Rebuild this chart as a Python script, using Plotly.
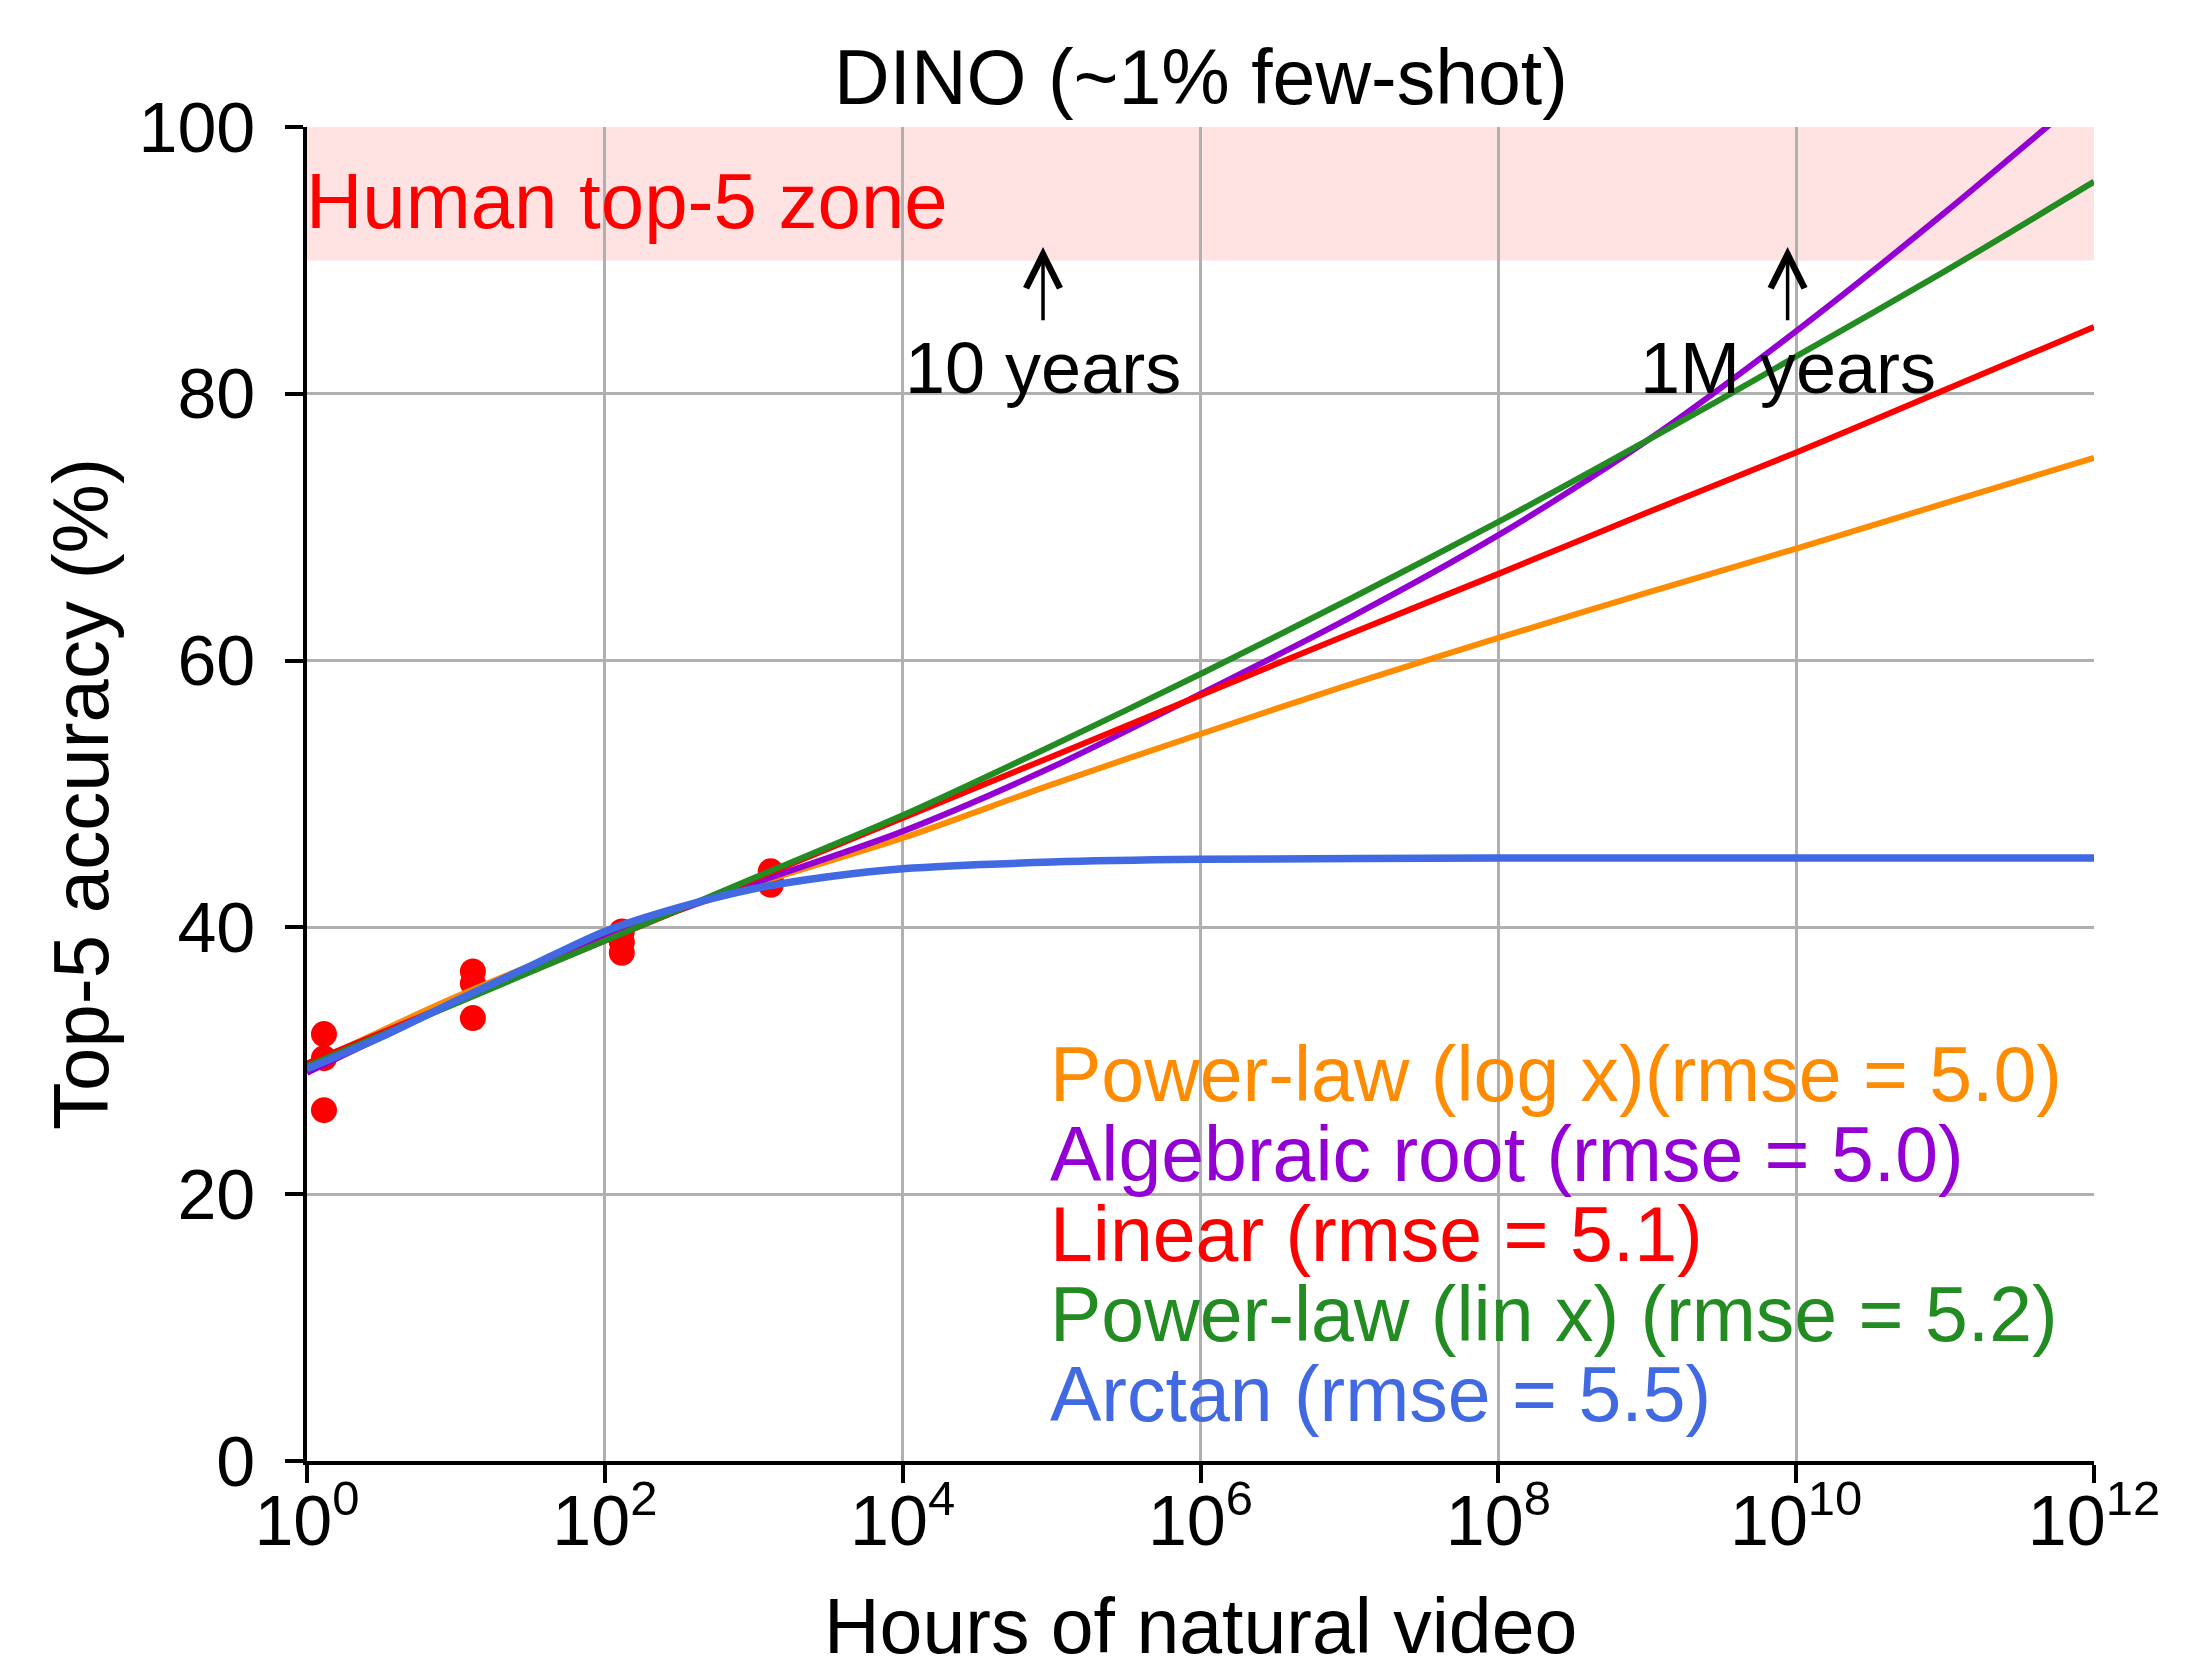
import plotly.graph_objects as go
import math

FONT = "Liberation Sans, Arial, Helvetica, sans-serif"

# ---------------- data ----------------
run_hours = [1.3, 1.3, 1.3, 13, 13, 13, 130, 130, 130, 1300, 1300, 1300]
run_top5 = [32.0, 30.2, 26.3, 36.7, 35.8, 33.2, 39.7, 38.9, 38.1, 44.2, 43.6, 43.2]

fit_hours = [1e0, 1e1, 1e2, 1e3, 1e4, 1e5, 1e6, 1e7, 1e8, 1e9, 1e10, 1e11, 1e12]
powerlaw_log_acc = [29.6, 34.8, 39.3, 43.2, 46.7, 50.7, 54.5, 58.2, 61.7, 65.1, 68.4, 71.8, 75.2]
algebraic_root_acc = [29.1, 34.4, 39.2, 43.3, 47.2, 52.0, 57.5, 63.2, 69.4, 76.5, 84.7, 93.6, 103.0]
linear_acc = [29.8, 34.4, 39.0, 43.6, 48.2, 52.8, 57.4, 62.0, 66.5, 71.1, 75.6, 80.3, 85.0]
powerlaw_lin_acc = [29.6, 34.3, 39.0, 43.7, 48.4, 53.6, 59.0, 64.6, 70.4, 76.5, 82.8, 89.2, 95.9]
arctan_hours = [1, 3.16, 10, 31.6, 100, 316, 1e3, 3160, 1e4, 1e5, 1e6, 1e8, 1e10, 1e12]
arctan_acc = [29.4, 31.8, 34.5, 37.1, 39.7, 41.5, 42.9, 43.8, 44.4, 44.9, 45.1, 45.2, 45.2, 45.2]

fit_names = [
    "Power-law (log x)(rmse = 5.0)",
    "Algebraic root (rmse = 5.0)",
    "Linear (rmse = 5.1)",
    "Power-law (lin x) (rmse = 5.2)",
    "Arctan (rmse = 5.5)",
]
fit_colors = ["#ff8c00", "#9400d3", "#ff0000", "#228b22", "#4169e1"]

x_tick_vals = [1e0, 1e2, 1e4, 1e6, 1e8, 1e10, 1e12]
x_tick_text = ["10<sup>0</sup>", "10<sup>2</sup>", "10<sup>4</sup>", "10<sup>6</sup>",
               "10<sup>8</sup>", "10<sup>10</sup>", "10<sup>12</sup>"]
y_tick_vals = [0, 20, 40, 60, 80, 100]

human_zone = [90, 100]
milestone_hours = [87600, 8.76e9]
milestone_labels = ["10 years", "1M years"]

# ---------------- figure ----------------
fig = go.Figure()

fig.add_trace(go.Scatter(x=run_hours, y=run_top5, mode="markers",
                         marker=dict(color="#ff0000", size=26, line=dict(width=0)),
                         showlegend=False))

fit_x = [fit_hours, fit_hours, fit_hours, fit_hours, arctan_hours]
fit_y = [powerlaw_log_acc, algebraic_root_acc, linear_acc, powerlaw_lin_acc, arctan_acc]
for i, (xs, ys) in enumerate(zip(fit_x, fit_y)):
    fig.add_trace(go.Scatter(x=xs, y=ys, mode="lines", name=fit_names[i],
                             line=dict(color=fit_colors[i], width=7.5 if i == 4 else 6,
                                       shape="spline", smoothing=0.8),
                             showlegend=False))

fig.add_shape(type="rect", xref="paper", x0=0, x1=1, yref="y",
              y0=human_zone[0], y1=human_zone[1],
              fillcolor="rgba(255,0,0,0.11)", line=dict(width=0), layer="below")

annotations = []
annotations.append(dict(text="Human top-5 zone", xref="paper", x=0, xanchor="left", xshift=-3,
                        yref="y", y=94.45, yanchor="middle", showarrow=False,
                        font=dict(family=FONT, size=78, color="#ff0000")))

for h, lab in zip(milestone_hours, milestone_labels):
    lx = math.log10(h)
    annotations.append(dict(text="", x=lx, y=91, xref="x", yref="y",
                            ax=lx, ay=85.4, axref="x", ayref="y",
                            showarrow=True, arrowhead=5, arrowsize=1.9, arrowwidth=3.5,
                            arrowcolor="black", standoff=0, startstandoff=0))
    annotations.append(dict(text=lab, x=lx, y=81.9, xref="x", yref="y",
                            xanchor="center", yanchor="middle", showarrow=False,
                            font=dict(family=FONT, size=72, color="black")))

# legend as coloured text lines
leg_top_y = 0.2901
leg_step = 0.0600
for i, (name, col) in enumerate(zip(fit_names, fit_colors)):
    annotations.append(dict(text=name, xref="paper", x=0.4147, xanchor="left",
                            yref="paper", y=leg_top_y - i * leg_step, yanchor="middle",
                            showarrow=False, font=dict(family=FONT, size=77, color=col)))

# title and axis titles
annotations.append(dict(text="DINO (~1% few-shot)", xref="paper", x=0.5, xanchor="center",
                        yref="paper", y=1.0375, yanchor="middle", showarrow=False,
                        font=dict(family=FONT, size=77, color="black")))
annotations.append(dict(text="Hours of natural video", xref="paper", x=0.5, xanchor="center",
                        yref="paper", y=-0.1237, yanchor="middle", showarrow=False,
                        font=dict(family=FONT, size=77, color="black")))
annotations.append(dict(text="Top-5 accuracy (%)", xref="paper", x=-0.1265, xanchor="center",
                        yref="paper", y=0.5, yanchor="middle", textangle=-90, showarrow=False,
                        font=dict(family=FONT, size=78, color="black")))

axis_common = dict(showline=True, linecolor="black", linewidth=3.5, ticks="outside",
                   ticklen=18, tickwidth=3.5, tickcolor="black", showgrid=True,
                   gridcolor="#b0b0b0", gridwidth=2.5, zeroline=False, automargin=False,
                   tickfont=dict(family=FONT, size=70, color="black"), mirror=False)

fig.update_xaxes(type="log", range=[0, 12], tickmode="array", tickvals=x_tick_vals,
                 ticktext=x_tick_text, ticklabelstandoff=-22, **axis_common)
fig.update_yaxes(range=[0, 100], tickmode="array", tickvals=y_tick_vals,
                 ticklabelstandoff=16, **axis_common)

# page body has an 8px margin, so the figure is 8px smaller than the window
fig.update_layout(width=2200, height=1660,
                  margin=dict(l=299, r=114, t=119, b=207, autoexpand=False),
                  paper_bgcolor="white", plot_bgcolor="white",
                  font=dict(family=FONT, color="black"),
                  annotations=annotations, showlegend=False)

fig.write_html("out.html")
